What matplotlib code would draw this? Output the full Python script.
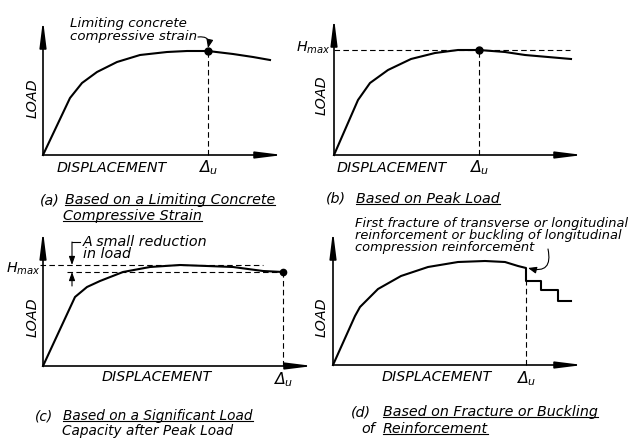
import numpy as np
import matplotlib
matplotlib.use('Agg')
import matplotlib.pyplot as plt
from matplotlib.lines import Line2D

W, H = 636, 438
plt.rcParams['font.family'] = ['DejaVu Sans']
plt.rcParams['font.style'] = 'italic'
plt.rcParams['mathtext.fontset'] = 'dejavusans'

# --- curve data (displacement, load), origin at axis corner ---
A_DISP = [0, 27, 39, 54, 74, 97, 124, 144, 165, 190, 210, 227]
A_LOAD = [0, 57, 72, 83, 93, 100, 103, 104, 104, 101, 98, 95]
A_DU = 165

B_DISP = [0, 24, 36, 54, 77, 101, 124, 145, 171, 191, 237]
B_LOAD = [0, 55, 72, 85, 96, 102, 105, 105, 103, 100, 96]
B_DU = 145
B_HMAX = 105

C_DISP = [0, 32, 44, 57, 80, 107, 137, 164, 190, 220, 240]
C_LOAD = [0, 69, 79, 85, 94, 99, 101, 100, 99, 95, 94]
C_DU = 240
C_HMAX = 101
C_REDUCED = 94

D_DISP = [0, 22, 27, 45, 68, 95, 125, 152, 172, 185, 193, 193, 208, 208, 225, 225, 238]
D_LOAD = [0, 49, 58, 76, 89, 98, 103, 104, 103, 99, 97, 84, 84, 75, 75, 64, 64]
D_DU = 193
D_DU_LOAD = 97

FS = 10.3
fig = plt.figure(figsize=(W / 100, H / 100), dpi=100)
underlined = []


def make_ax(ox, oy, xlen, ylen):
    ax = fig.add_axes([ox / W, 1 - oy / H, xlen / W, ylen / H])
    ax.set_xlim(0, xlen)
    ax.set_ylim(0, ylen)
    ax.axis('off')
    arrow = dict(arrowstyle='-|>,head_length=1.6,head_width=0.2', color='k',
                 lw=1.2, mutation_scale=10, shrinkA=0, shrinkB=0)
    ax.annotate('', xy=(xlen, 0), xytext=(0, 0), arrowprops=arrow, annotation_clip=False)
    ax.annotate('', xy=(0, ylen), xytext=(0, 0), arrowprops=arrow, annotation_clip=False)
    return ax


def labels(ax, load_xy, disp_xy, du_xy):
    ax.text(*load_xy, 'LOAD', fontsize=FS, rotation=90, ha='center', va='center')
    ax.text(*disp_xy, 'DISPLACEMENT', fontsize=FS, ha='center', va='center')
    ax.text(*du_xy, r'$\Delta_u$', fontsize=FS + 1, ha='center', va='center')


def caption(ax, x, y, s, ul=True, fs=FS):
    t = ax.text(x, y, s, fontsize=fs, ha='left', va='center')
    if ul:
        underlined.append(t)


def vdash(ax, x, y):
    ax.plot([x, x], [0, y], color='k', lw=0.8, ls=(0, (5, 3)), clip_on=False)


# (a) limiting concrete compressive strain
ax = make_ax(43, 155, 240, 135)
ax.plot(A_DISP, A_LOAD, color='k', lw=1.5, clip_on=False)
du_load = A_LOAD[A_DISP.index(A_DU)]
vdash(ax, A_DU, du_load)
ax.plot(A_DU, du_load, 'o', color='k', ms=5, clip_on=False)
labels(ax, (-10, 57), (69, -13), (A_DU, -13))
ax.text(27, 125, 'Limiting concrete\ncompressive strain', fontsize=9.6, ha='left',
        va='center', linespacing=0.95)
ax.annotate('', xy=(A_DU, du_load + 3), xytext=(155, 118),
            arrowprops=dict(arrowstyle='-|>,head_length=0.5,head_width=0.2', color='k',
                            lw=0.8, connectionstyle='arc3,rad=-0.7', shrinkA=0, shrinkB=0),
            annotation_clip=False)
caption(ax, -3, -45, '(a)', ul=False)
caption(ax, 22, -45, 'Based on a Limiting Concrete')
caption(ax, 20, -61, 'Compressive Strain')

# (b) peak load
ax = make_ax(334, 155, 249, 137)
ax.plot(B_DISP, B_LOAD, color='k', lw=1.5, clip_on=False)
ax.plot([0, 236], [B_HMAX, B_HMAX], color='k', lw=0.8, ls=(0, (5, 3)), clip_on=False)
vdash(ax, B_DU, B_HMAX)
ax.plot(B_DU, B_HMAX, 'o', color='k', ms=5, clip_on=False)
labels(ax, (-12, 60), (58, -13), (B_DU, -13))
ax.text(-3, 107, r'$H_{max}$', fontsize=FS, ha='right', va='center')
caption(ax, -8, -44, '(b)', ul=False)
caption(ax, 22, -44, 'Based on Peak Load')

# (c) significant load capacity after peak
ax = make_ax(43, 366, 270, 135)
ax.plot(C_DISP, C_LOAD, color='k', lw=1.5, clip_on=False)
ax.plot([-3, 220], [C_HMAX, C_HMAX], color='k', lw=0.8, ls=(0, (5, 3)), clip_on=False)
ax.plot([24, C_DU], [C_REDUCED, C_REDUCED], color='k', lw=0.8, ls=(0, (5, 3)), clip_on=False)
vdash(ax, C_DU, C_REDUCED)
ax.plot(C_DU, C_REDUCED, 'o', color='k', ms=4.5, clip_on=False)
labels(ax, (-10, 49), (114, -11), (C_DU, -14))
ax.text(-2, 97, r'$H_{max}$', fontsize=FS, ha='right', va='center')
ax.text(40, 118, 'A small reduction\nin load', fontsize=FS, ha='left', va='center',
        linespacing=0.9)
small = dict(arrowstyle='-|>,head_length=0.5,head_width=0.18', color='k', lw=0.8,
             shrinkA=0, shrinkB=0)
ax.plot([29, 37], [124, 124], color='k', lw=0.8, clip_on=False)
ax.annotate('', xy=(29, C_HMAX), xytext=(29, 124), arrowprops=small, annotation_clip=False)
ax.annotate('', xy=(29, C_REDUCED), xytext=(29, 80), arrowprops=small, annotation_clip=False)
caption(ax, -8, -50, '(c)', ul=False, fs=9.8)
caption(ax, 20, -50, 'Based on a Significant Load', fs=9.8)
caption(ax, 19, -64.5, 'Capacity after Peak Load', ul=False, fs=9.8)

# (d) fracture or buckling of reinforcement
ax = make_ax(333, 365, 250, 134)
ax.plot(D_DISP, D_LOAD, color='k', lw=1.5, clip_on=False)
vdash(ax, D_DU, D_LOAD[D_DISP.index(D_DU) + 1])
labels(ax, (-11, 48), (104, -12), (D_DU, -14))
ax.text(22, 129, 'First fracture of transverse or longitudinal\n'
        'reinforcement or buckling of longitudinal\ncompression reinforcement',
        fontsize=9.4, ha='left', va='center', linespacing=0.9)
ax.annotate('', xy=(D_DU + 2, D_DU_LOAD), xytext=(215, 116),
            arrowprops=dict(arrowstyle='-|>,head_length=0.5,head_width=0.2', color='k',
                            lw=0.8, connectionstyle='arc3,rad=-0.8', shrinkA=0, shrinkB=0),
            annotation_clip=False)
caption(ax, 18, -47, '(d)', ul=False)
caption(ax, 50, -47, 'Based on Fracture or Buckling')
caption(ax, 28, -64, 'of', ul=False)
caption(ax, 50, -64, 'Reinforcement')

# underline captions
fig.canvas.draw()
r = fig.canvas.get_renderer()
for t in underlined:
    bb = t.get_window_extent(r)
    y = bb.y0 + 2.5
    fig.add_artist(Line2D([bb.x0 / W, bb.x1 / W], [y / H, y / H], lw=0.8, color='k'))

fig.savefig('out.png', dpi=100)
